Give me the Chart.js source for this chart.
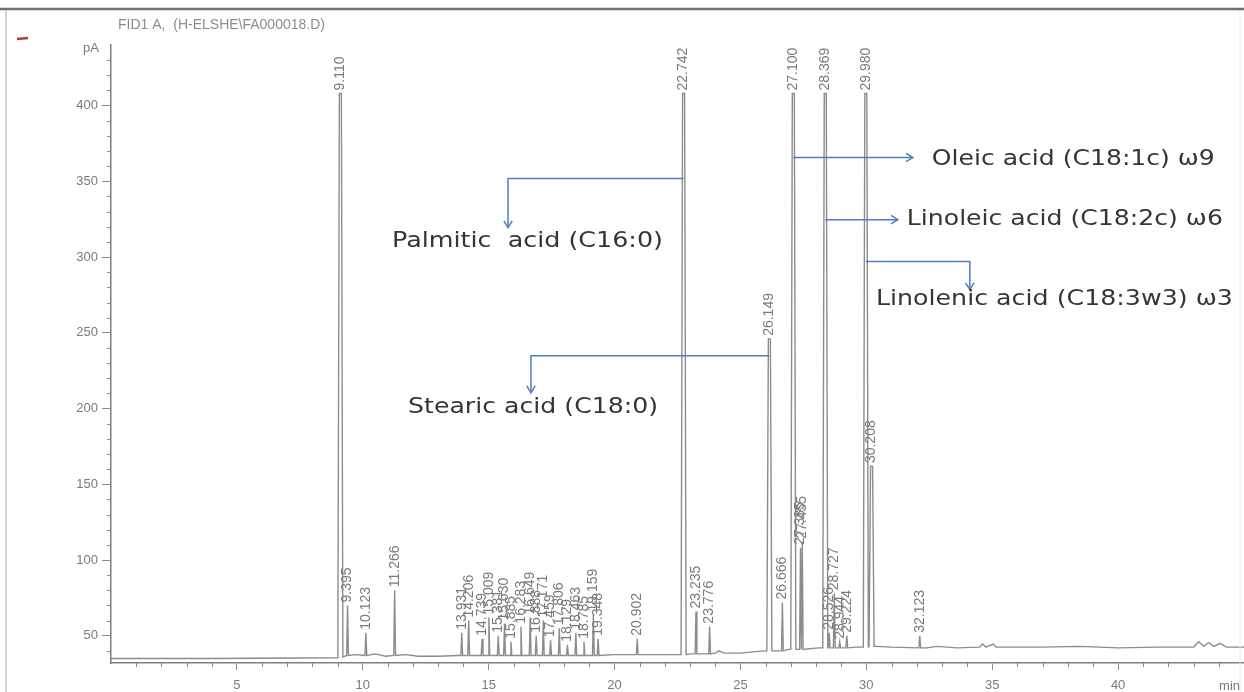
<!DOCTYPE html>
<html>
<head>
<meta charset="utf-8">
<title>FID1 A chromatogram</title>
<script src="https://cdn.jsdelivr.net/npm/chart.js@4.4.1/dist/chart.umd.min.js"></script>
<style>
  html, body { margin: 0; padding: 0; background: #fff; }
  #wrap { position: relative; width: 1244px; height: 692px; }
  canvas { display: block; }
</style>
</head>
<body>
<div id="wrap"><canvas id="gc" width="1244" height="692"></canvas></div>
<script>
// Integrated peaks: retention time (min), apex signal (pA), signal at the peak foot (pA)
const peakTimes   = [9.110, 9.395, 10.123, 11.266,
                     13.931, 14.206, 14.739, 15.009, 15.381, 15.630, 15.885, 16.283, 16.649,
                     16.888, 17.171, 17.459, 17.806, 18.129, 18.463, 18.785, 19.159, 19.348,
                     20.902, 22.742, 23.235, 23.776, 26.149, 26.666, 27.100, 27.385, 27.455,
                     28.369, 28.526, 28.727, 28.944, 29.224, 29.980, 30.208, 32.123];
const peakHeights = [408, 70, 52, 80,
                     52, 60, 48, 62, 50, 58, 46, 56, 62,
                     50, 60, 47, 55, 44, 52, 46, 64, 48,
                     48, 408, 66, 56, 246, 72, 408, 108, 112,
                     408, 52, 78, 46, 50, 408, 162, 50];
const peakBases   = [36, 37, 37, 37,
                     37, 37, 37, 37, 37, 37, 37, 37, 37,
                     37, 37, 37, 37, 37, 37, 37, 37, 37,
                     37.5, 37.5, 38, 38, 40, 40, 41, 41, 41,
                     42, 42, 42, 42, 42, 42.5, 43, 42];

// Detector baseline between peaks
const baselineTimes  = [0, 4, 9.0, 9.7, 10.5, 10.9, 11.7, 12.2, 13.0, 13.8,
                        20.0, 21.5, 22.2, 23.0, 24.0, 24.15, 24.35, 25.0, 25.6, 26.0,
                        26.9, 28.1, 29.6, 30.4, 31.0, 32.4, 32.8, 33.6, 34.5, 34.62,
                        34.75, 35.05, 35.15, 35.3, 37.0, 38.5, 40.0, 41.5, 43.0, 43.2,
                        43.4, 43.6, 43.8, 44.05, 44.3, 45.0];
const baselineValues = [35, 35, 35.5, 37.5, 38, 36.5, 37.5, 36.5, 36.5, 37,
                        37.5, 37.5, 37.5, 38, 38.5, 40, 38.5, 38.5, 39.5, 40,
                        41, 42, 42.5, 43, 42.5, 42, 43, 42, 42.5, 44.5,
                        42.5, 44.5, 42.5, 42.5, 42.5, 43, 42, 42.5, 42.5, 46,
                        43, 45.5, 43, 45, 42.5, 42.5];

// Axis tick labels
const xTickLabels = ['5', '10', '15', '20', '25', '30', '35', '40'];
const yTickLabels = ['50', '100', '150', '200', '250', '300', '350', '400'];

// Named fatty acid call-outs (path in minutes / pA, text anchor left-middle)
const callouts = [
  { peak: 22.742, text: 'Palmitic  acid (C16:0)',        path: [[22.742, 351.8], [15.77, 351.8], [15.77, 319.4]], at: [11.16, 310.2], width: 271 },
  { peak: 26.149, text: 'Stearic acid (C18:0)',          path: [[26.149, 234.9], [16.68, 234.9], [16.68, 210.4]], at: [11.80, 200.5], width: 250 },
  { peak: 27.100, text: 'Oleic acid (C18:1c) \u03c99',       path: [[27.100, 365.7], [31.85, 365.7]],                  at: [32.60, 364.3], width: 283 },
  { peak: 28.369, text: 'Linoleic acid (C18:2c) \u03c96',    path: [[28.369, 324.7], [31.25, 324.7]],                  at: [31.61, 324.7], width: 316 },
  { peak: 29.980, text: 'Linolenic acid (C18:3w3) \u03c93',  path: [[29.980, 297.0], [34.11, 297.0], [34.11, 278.5]], at: [30.38, 271.9], width: 357 }
];

// Assemble the detector trace: baseline plus a narrow peak shape for every peak
const trace = baselineTimes.map((t, i) => ({ x: t, y: baselineValues[i] }));
peakTimes.forEach((t, i) => {
  const big = peakHeights[i] > 150;
  const hw = big ? 0.1 : 0.035;
  trace.push({ x: t - hw, y: peakBases[i] });
  if (big) {
    trace.push({ x: t - 0.04, y: peakHeights[i] }, { x: t + 0.04, y: peakHeights[i] });
  } else {
    trace.push({ x: t, y: peakHeights[i] });
  }
  trace.push({ x: t + hw, y: peakBases[i] });
});
trace.sort((a, b) => a.x - b.x);

const GREY = '#8a8a8a';
const LABEL_GREY = '#7a7a7a';

// Frame, header text, minor ticks and unit labels
const frameAndAxes = {
  id: 'frameAndAxes',
  afterDraw(chart) {
    const c = chart.ctx, xs = chart.scales.x, ys = chart.scales.y, a = chart.chartArea;
    c.save();
    // outer frame
    c.strokeStyle = '#6f6f6f'; c.lineWidth = 2.5;
    c.beginPath(); c.moveTo(0, 9); c.lineTo(1244, 9); c.stroke();
    c.strokeStyle = '#d2d2d2'; c.lineWidth = 2;
    c.beginPath(); c.moveTo(6, 10); c.lineTo(6, 692); c.stroke();
    c.strokeStyle = '#ececec'; c.lineWidth = 1;
    c.beginPath(); c.moveTo(1240, 10); c.lineTo(1240, 692); c.stroke();
    // red marker
    c.strokeStyle = '#c0392b'; c.lineWidth = 2.5;
    c.beginPath(); c.moveTo(17, 39); c.lineTo(28, 38); c.stroke();
    // header
    c.fillStyle = '#8c8c8c';
    c.font = '14px "Liberation Sans", Arial, sans-serif';
    c.textBaseline = 'middle'; c.textAlign = 'left';
    c.fillText('FID1 A,  (H-ELSHE\\FA000018.D)', 118, 25);
    // minor ticks
    c.strokeStyle = GREY; c.lineWidth = 1;
    for (let v = 40; v <= 430; v += 10) {
      if (v % 50 === 0) continue;
      const y = Math.round(ys.getPixelForValue(v)) + 0.5;
      c.beginPath(); c.moveTo(a.left - 4, y); c.lineTo(a.left, y); c.stroke();
    }
    for (let m = 1; m < 45; m++) {
      if (m % 5 === 0) continue;
      const x = Math.round(xs.getPixelForValue(m)) + 0.5;
      c.beginPath(); c.moveTo(x, a.bottom); c.lineTo(x, a.bottom + 4); c.stroke();
    }
    // unit labels
    c.fillStyle = '#7a7a7a';
    c.font = '13px "Liberation Sans", Arial, sans-serif';
    c.textAlign = 'right'; c.textBaseline = 'middle';
    c.fillText('pA', a.left - 12, 48);
    c.fillText('min', 1240, 686);
    c.restore();
  }
};

// Retention-time labels printed vertically above each peak
const peakLabels = {
  id: 'peakLabels',
  afterDatasetsDraw(chart) {
    const c = chart.ctx, xs = chart.scales.x, ys = chart.scales.y;
    c.save();
    c.fillStyle = LABEL_GREY;
    c.font = '14px "Liberation Sans", Arial, sans-serif';
    c.textAlign = 'left'; c.textBaseline = 'middle';
    peakTimes.forEach((t, i) => {
      const x = xs.getPixelForValue(t), y = ys.getPixelForValue(peakHeights[i]);
      c.save();
      c.translate(x, y - 3);
      c.rotate(-Math.PI / 2);
      c.fillText(t.toFixed(3), 0, 0);
      c.restore();
    });
    c.restore();
  }
};

// Blue elbow arrows with compound names
const calloutPlugin = {
  id: 'callouts',
  afterDatasetsDraw(chart) {
    const c = chart.ctx, xs = chart.scales.x, ys = chart.scales.y;
    c.save();
    callouts.forEach(co => {
      const p = co.path.map(([t, v]) => [xs.getPixelForValue(t), ys.getPixelForValue(v)]);
      c.strokeStyle = '#4f7fbf'; c.lineWidth = 1.5;
      c.beginPath(); c.moveTo(p[0][0], p[0][1]);
      for (let k = 1; k < p.length; k++) c.lineTo(p[k][0], p[k][1]);
      c.stroke();
      // open arrowhead
      const [x1, y1] = p[p.length - 2], [x2, y2] = p[p.length - 1];
      const ang = Math.atan2(y2 - y1, x2 - x1), L = 8, spread = 0.55;
      c.beginPath();
      c.moveTo(x2 - L * Math.cos(ang - spread), y2 - L * Math.sin(ang - spread));
      c.lineTo(x2, y2);
      c.lineTo(x2 - L * Math.cos(ang + spread), y2 - L * Math.sin(ang + spread));
      c.stroke();
      // name
      c.fillStyle = '#353535';
      c.font = '21px "DejaVu Sans", Verdana, sans-serif';
      c.textAlign = 'left'; c.textBaseline = 'middle';
      const w = c.measureText(co.text).width;
      const tx = xs.getPixelForValue(co.at[0]), ty = ys.getPixelForValue(co.at[1]);
      c.save();
      c.translate(tx, ty);
      c.scale(co.width / w, 1);
      c.fillText(co.text, 0, 0);
      c.restore();
    });
    c.restore();
  }
};

new Chart(document.getElementById('gc').getContext('2d'), {
  type: 'scatter',
  data: {
    datasets: [{
      data: trace,
      showLine: true,
      borderColor: '#8c8c8c',
      borderWidth: 1.4,
      pointRadius: 0,
      tension: 0,
      fill: false
    }]
  },
  options: {
    responsive: false,
    animation: false,
    devicePixelRatio: 1,
    layout: { padding: { top: 45, left: 0, right: 0, bottom: 0 } },
    plugins: { legend: { display: false }, tooltip: { enabled: false }, title: { display: false } },
    scales: {
      x: {
        type: 'linear', min: 0, max: 45,
        afterFit(s) { s.height = 29; s.paddingLeft = 0; s.paddingRight = 0; },
        border: { color: '#7f7f7f', width: 1.5 },
        grid: {
          drawOnChartArea: false, drawTicks: true, tickLength: 7,
          tickColor: ctx => (ctx.tick && ctx.tick.value % 5 === 0 && ctx.tick.value > 0 && ctx.tick.value < 45) ? GREY : 'rgba(0,0,0,0)'
        },
        ticks: {
          stepSize: 1, autoSkip: false, maxRotation: 0, minRotation: 0, padding: 8,
          color: '#7a7a7a', font: { family: '"Liberation Sans", Arial, sans-serif', size: 13 },
          callback: v => xTickLabels.includes(String(v)) ? String(v) : ''
        }
      },
      y: {
        type: 'linear', min: 32, max: 440,
        afterFit(s) { s.width = 111; s.paddingTop = 0; s.paddingBottom = 0; },
        border: { color: '#7f7f7f', width: 1.5 },
        grid: {
          drawOnChartArea: false, drawTicks: true, tickLength: 9,
          tickColor: ctx => (ctx.tick && yTickLabels.includes(String(ctx.tick.value))) ? GREY : 'rgba(0,0,0,0)'
        },
        ticks: {
          stepSize: 10, autoSkip: false, padding: 4,
          color: '#7a7a7a', font: { family: '"Liberation Sans", Arial, sans-serif', size: 13 },
          callback: v => yTickLabels.includes(String(v)) ? String(v) : ''
        }
      }
    }
  },
  plugins: [frameAndAxes, peakLabels, calloutPlugin]
});
</script>
</body>
</html>
